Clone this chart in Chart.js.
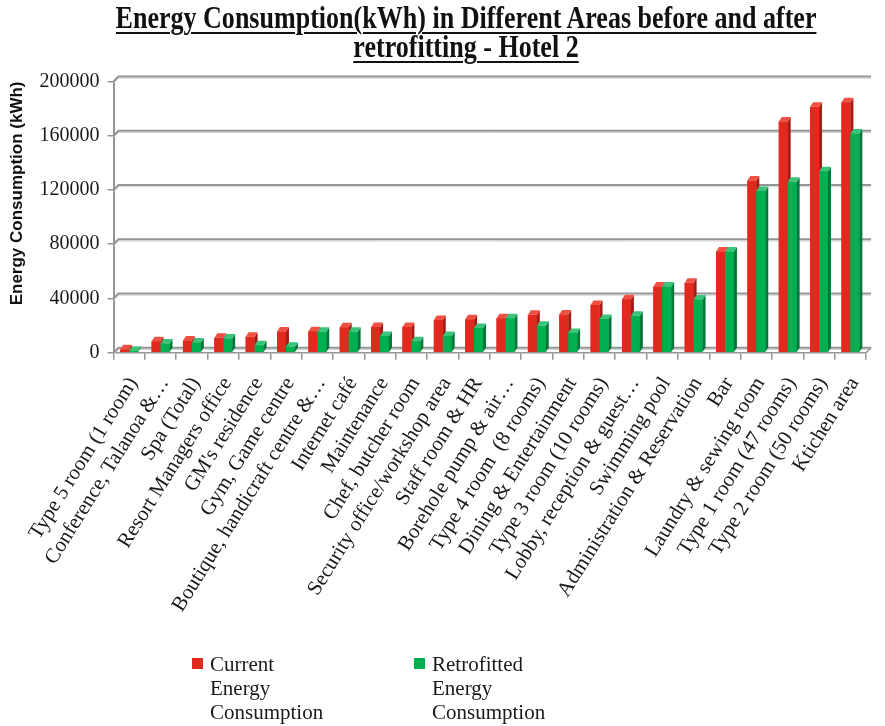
<!DOCTYPE html>
<html>
<head>
<meta charset="utf-8">
<script src="https://cdn.jsdelivr.net/npm/chart.js@4/dist/chart.umd.min.js"></script>
<style>
  html, body { margin: 0; padding: 0; background: #fff; }
  #wrap { position: relative; width: 885px; height: 726px; overflow: hidden; }
  #c { position: absolute; left: 0; top: 0; }
  #title {
    position: absolute; left: 466px; top: 3px;
    transform: translateX(-50%) scaleX(0.84); transform-origin: 50% 0;
    font-family: "Liberation Serif", "Times New Roman", serif; font-weight: bold;
    font-size: 31px; line-height: 29px; color: #111; text-align: center; white-space: nowrap;
  }
  #title span { text-decoration: underline; text-decoration-thickness: 2px; text-underline-offset: 4px; }
  .leg { position: absolute; font-family: "Liberation Serif", "Times New Roman", serif;
         font-size: 21px; line-height: 24px; color: #1a1a1a; }
  .leg .sw { position: absolute; left: 0; top: 6px; width: 11px; height: 11px; }
  .leg .tx { position: absolute; left: 18px; top: 0; white-space: nowrap; }
</style>
</head>
<body>
<div id="wrap">
  <canvas id="c" width="885" height="726"></canvas>
  <div id="title"><span>Energy Consumption(kWh) in Different Areas before and after</span><br><span>retrofitting - Hotel 2</span></div>
  <div id="legend"></div>
</div>
<script>
// Areas of the hotel, ordered by current consumption
const categories = [
  "Type 5 room (1 room)",
  "Conference, Talanoa &…",
  "Spa (Total)",
  "Resort Managers office",
  "GM's residence",
  "Gym, Game centre",
  "Boutique, handicraft centre &…",
  "Internet café",
  "Maintenance",
  "Chef, butcher room",
  "Security office/workshop area",
  "Staff room & HR",
  "Borehole pump & air…",
  "Type 4 room  (8 rooms)",
  "Dining & Entertainment",
  "Type 3 room (10 rooms)",
  "Lobby, reception & guest…",
  "Swimming pool",
  "Administration & Reservation",
  "Bar",
  "Laundry & sewing room",
  "Type 1 room (47 rooms)",
  "Type 2 room (50 rooms)",
  "Ktichen area"
];

// kWh per area
const currentEnergy = [2500, 8500, 9000, 11000, 11800, 15700, 15800, 18700, 19000, 19000, 24200, 24600,
  25400, 27900, 28200, 35100, 39500, 48900, 51500, 74700, 126900, 170500, 181300, 184700];
const retrofittedEnergy = [1200, 6800, 7600, 10500, 5500, 4300, 15500, 15500, 12300, 8400, 12300, 18300,
  25400, 19800, 14600, 24900, 27200, 48900, 39200, 74700, 119300, 126000, 133800, 161700];

const yTicks = [0, 40000, 80000, 120000, 160000, 200000];
const seriesNames = [["Current", "Energy", "Consumption"], ["Retrofitted", "Energy", "Consumption"]];

const SERIF = '"Liberation Serif", "Times New Roman", serif';

// faces for the pseudo-3D columns: front / side / top
const palette = [
  { front: '#E2291E', side: '#A81B12', top: '#EE5044' },
  { front: '#00AF4F', side: '#00783A', top: '#39C47A' }
];
const WALL = { dx: 5, dy: -5 };   // depth of the back wall
const BAR = { dx: 3, dy: -4.5 };  // depth of each column

const depthPlugin = {
  id: 'depth3d',
  beforeDatasetsDraw(chart) {
    const { ctx, chartArea: a, scales: { y } } = chart;
    ctx.save();
    // back-wall gridlines, each joined to the front axis by a short diagonal
    y.ticks.forEach(t => {
      const py = y.getPixelForValue(t.value);
      [['#d4d4d4', 1, 1.8], ['#959595', 2, 0]].forEach(([col, w, off]) => {
        ctx.strokeStyle = col; ctx.lineWidth = w;
        ctx.beginPath();
        ctx.moveTo(a.left, py + off);
        ctx.lineTo(a.left + WALL.dx, py + WALL.dy + off);
        ctx.lineTo(a.right + WALL.dx, py + WALL.dy + off);
        ctx.stroke();
      });
    });
    // right edge of the floor
    ctx.strokeStyle = '#959595'; ctx.lineWidth = 1.5;
    ctx.beginPath();
    ctx.moveTo(a.right, a.bottom);
    ctx.lineTo(a.right + WALL.dx, a.bottom + WALL.dy);
    ctx.stroke();
    ctx.restore();
  },
  // columns are finished left to right so each one covers the side of its neighbour
  afterDatasetsDraw(chart) {
    const { ctx } = chart;
    ctx.save();
    chart.data.datasets.forEach((ds, i) => {
      const col = palette[i];
      chart.getDatasetMeta(i).data.forEach(bar => {
        const { x, y, base, width } = bar.getProps(['x', 'y', 'base', 'width'], true);
        const l = x - width / 2, r = x + width / 2;
        ctx.fillStyle = col.front;
        ctx.fillRect(l, y, width, base - y);
        ctx.fillStyle = col.side;
        ctx.beginPath();
        ctx.moveTo(r, y); ctx.lineTo(r + BAR.dx, y + BAR.dy);
        ctx.lineTo(r + BAR.dx, base + BAR.dy); ctx.lineTo(r, base);
        ctx.closePath(); ctx.fill();
        ctx.fillStyle = col.top;
        ctx.beginPath();
        ctx.moveTo(l, y); ctx.lineTo(l + BAR.dx, y + BAR.dy);
        ctx.lineTo(r + BAR.dx, y + BAR.dy); ctx.lineTo(r, y);
        ctx.closePath(); ctx.fill();
      });
    });
    ctx.restore();
  }
};

const chart = new Chart(document.getElementById('c'), {
  type: 'bar',
  data: {
    labels: categories,
    datasets: [
      { label: seriesNames[0].join(' '), data: currentEnergy, backgroundColor: palette[0].front,
        borderWidth: 0, categoryPercentage: 0.57, barPercentage: 1.0 },
      { label: seriesNames[1].join(' '), data: retrofittedEnergy, backgroundColor: palette[1].front,
        borderWidth: 0, categoryPercentage: 0.57, barPercentage: 1.0 }
    ]
  },
  options: {
    responsive: false,
    animation: false,
    layout: { padding: { top: 81.5, right: 11, left: 0, bottom: 0 } },
    plugins: { legend: { display: false }, title: { display: false }, tooltip: { enabled: false } },
    scales: {
      x: {
        offset: true,
        afterFit(scale) { scale.height = 373.3; },
        grid: { display: true, offset: true, drawOnChartArea: false, drawTicks: true,
                tickLength: 7, color: '#959595', lineWidth: 1.5 },
        border: { display: true, color: '#959595', width: 1.5 },
        ticks: { autoSkip: false, minRotation: 58, maxRotation: 58, padding: 13, labelOffset: 4,
                 color: '#1a1a1a', font: { family: SERIF, size: 21 } }
      },
      y: {
        min: 0, max: 200000,
        afterFit(scale) { scale.width = 113.5; },
        afterBuildTicks(scale) { scale.ticks = yTicks.map(v => ({ value: v })); },
        grid: { display: true, drawOnChartArea: false, drawTicks: true, tickLength: 6,
                color: '#959595', lineWidth: 1.5 },
        border: { display: true, color: '#959595', width: 2 },
        ticks: { padding: 8, color: '#1a1a1a', font: { family: SERIF, size: 20 },
                 callback: v => String(v) },
        title: { display: true, text: 'Energy Consumption (kWh)', align: 'end',
                 color: '#111', padding: { top: 7, bottom: 0 },
                 font: { family: '"Liberation Sans", Arial, sans-serif', size: 17, weight: 'bold' } }
      }
    }
  },
  plugins: [depthPlugin]
});

// legend built from the datasets
const legendPos = [{ left: 192, top: 652 }, { left: 414, top: 652 }];
const legendEl = document.getElementById('legend');
chart.data.datasets.forEach((ds, i) => {
  const item = document.createElement('div');
  item.className = 'leg';
  item.style.left = legendPos[i].left + 'px';
  item.style.top = legendPos[i].top + 'px';
  const sw = document.createElement('span');
  sw.className = 'sw';
  sw.style.background = ds.backgroundColor;
  const tx = document.createElement('span');
  tx.className = 'tx';
  tx.innerHTML = seriesNames[i].join('<br>');
  item.appendChild(sw); item.appendChild(tx);
  legendEl.appendChild(item);
});
</script>
</body>
</html>
